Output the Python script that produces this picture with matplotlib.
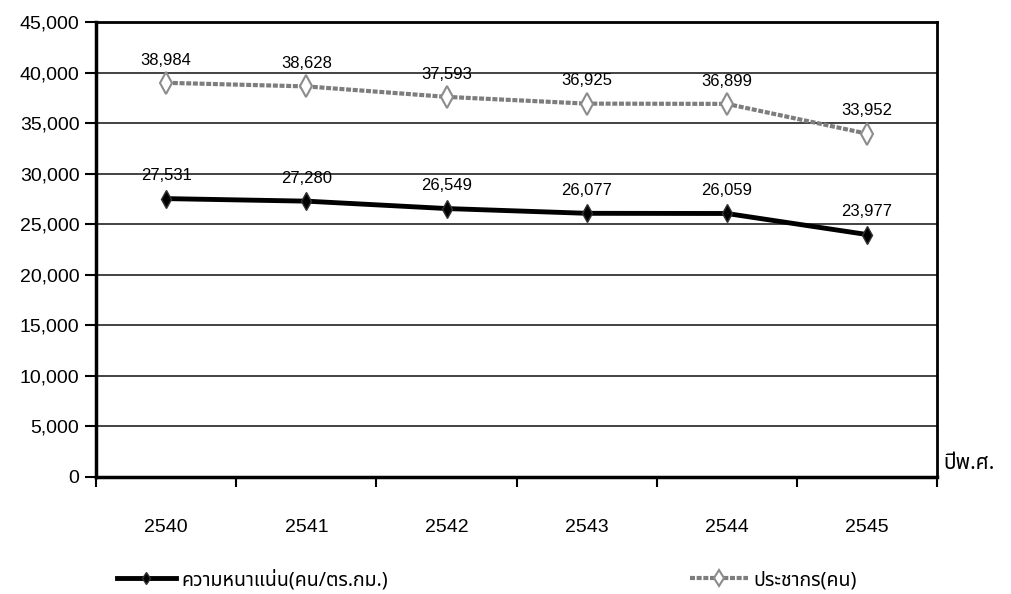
import matplotlib
matplotlib.use('Agg')
import matplotlib.pyplot as plt
from matplotlib.ticker import FuncFormatter, FixedLocator

years = ['2540', '2541', '2542', '2543', '2544', '2545']
density = [27531, 27280, 26549, 26077, 26059, 23977]
population = [38984, 38628, 37593, 36925, 36899, 33952]
density_label = 'ความหนาแน่น(คน/ตร.กม.)'
population_label = 'ประชากร(คน)'
x_title = 'ปีพ.ศ.'

plt.rcParams['font.family'] = ['Liberation Sans', 'Noto Sans Thai']
thai = ['Noto Sans Thai', 'Liberation Sans']

fig = plt.figure(figsize=(10.12, 5.94), dpi=100)
ax = fig.add_axes([0.095, 0.197, 0.831, 0.766])

xs = range(len(years))
ax.plot(xs, density, color='black', lw=3.5, marker='d', ms=9,
        mfc='black', mec='#333333', label=density_label, zorder=4)
ax.plot(xs, population, color='#7d7d7d', lw=3, ls=(0, (1.2, 0.4)), marker='d', ms=11,
        mfc='white', mec='#8c8c8c', mew=1.5, label=population_label, zorder=4)

for i in xs:
    ax.annotate(f'{density[i]:,}', (i, density[i]), xytext=(0, 11), textcoords='offset points',
                ha='center', va='bottom', fontsize=12)
    ax.annotate(f'{population[i]:,}', (i, population[i]), xytext=(0, 11), textcoords='offset points',
                ha='center', va='bottom', fontsize=12)

ax.set_ylim(0, 45000)
ax.set_xlim(-0.5, len(years) - 0.5)
ax.set_yticks(range(0, 45001, 5000))
ax.yaxis.set_major_formatter(FuncFormatter(lambda v, p: f'{int(v):,}'))
ax.grid(axis='y', color='#222222', lw=1.2)
ax.set_axisbelow(True)
ax.tick_params(axis='y', length=8, width=1.5, labelsize=14, pad=4)

ax.set_xticks(list(xs))
ax.set_xticklabels(years)
ax.xaxis.set_minor_locator(FixedLocator([i - 0.5 for i in range(len(years) + 1)]))
ax.tick_params(axis='x', which='major', length=0, labelsize=14, pad=30)
ax.tick_params(axis='x', which='minor', length=7, width=1.5)

for side in ['left', 'bottom']:
    ax.spines[side].set_linewidth(2.5)
for side in ['top', 'right']:
    ax.spines[side].set_linewidth(2)

ax.text(1.008, 0.03, x_title, transform=ax.transAxes, family=thai, fontsize=15,
        ha='left', va='center')

ax.legend(loc='upper center', bbox_to_anchor=(0.465, -0.165), ncol=2, frameon=False,
          prop={'family': thai, 'size': 14}, handlelength=3, handletextpad=0.3,
          columnspacing=15.5, markerscale=0.7)

fig.savefig('out.png')
